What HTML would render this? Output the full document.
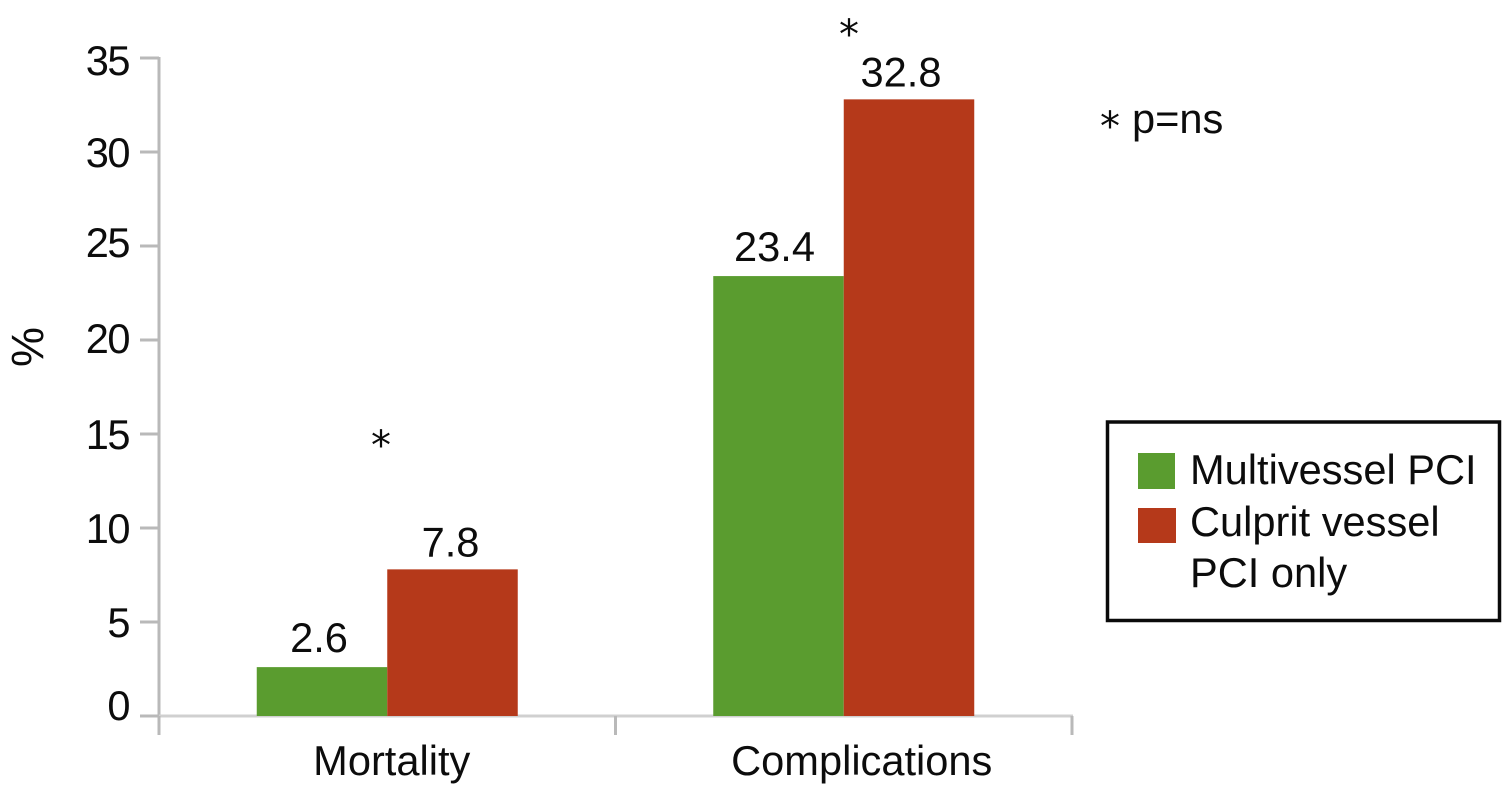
<!DOCTYPE html>
<html lang="en">
<head>
<meta charset="utf-8">
<title>Mortality and complications chart</title>
<style>
html,body{margin:0;padding:0;background:#fff;}
svg{display:block;}
text{font-family:"Liberation Sans",Arial,sans-serif;fill:#0c0c0c;}
</style>
</head>
<body>
<svg id="chart" width="1507" height="785" viewBox="0 0 1507 785" xmlns="http://www.w3.org/2000/svg">
  <text transform="translate(43,347) rotate(-90)" text-anchor="middle" font-size="45">%</text>
  <text x="1132" y="133" font-size="41.6">p=ns</text>
  <text x="1110" y="140" font-size="40" text-anchor="middle" style="font-family:'DejaVu Sans',sans-serif">*</text>
  <text x="381" y="459" font-size="40" text-anchor="middle" style="font-family:'DejaVu Sans',sans-serif">*</text>
  <text x="849" y="48" font-size="40" text-anchor="middle" style="font-family:'DejaVu Sans',sans-serif">*</text>
  <g id="axes"></g>
  <g id="bars"></g>
  <g>
    <rect x="1107.5" y="422" width="392" height="198.5" fill="#fff" stroke="#0a0a0a" stroke-width="3.5"/>
    <rect x="1138" y="453" width="37" height="36" fill="#5a9c2f"/>
    <rect x="1138" y="508" width="38" height="35" fill="#b5391a"/>
    <text x="1190" y="484" font-size="41.6">Multivessel PCI</text>
    <text x="1190" y="536" font-size="41.6">Culprit vessel</text>
    <text x="1190" y="587" font-size="41.6">PCI only</text>
  </g>
</svg>
<script>
const categories = ['Mortality', 'Complications'];
const multivesselValues = [2.6, 23.4];
const culpritValues = [7.8, 32.8];
const yTicks = [0, 5, 10, 15, 20, 25, 30, 35];

const NS = 'http://www.w3.org/2000/svg';
const axesLayer = document.getElementById('axes');
const barsLayer = document.getElementById('bars');
const AXIS_COLOR = '#b9b9b9';
const GREEN = '#5a9c2f';
const RED = '#b5391a';
const FONT = 41.6;

function yScale(v) { return 716 - v * (658 / 35); }
function bandWidth() { return 913 / categories.length; }
function bandCenter(i) { return 159 + bandWidth() * (i + 0.5); }
function bandEdge(i) { return 159 + bandWidth() * i; }
function tickLabelOffset(v) {
  if (v === 0) return 4;
  if (v === 35) return 17;
  if (v === 25) return 11;
  if (v === 20) return 13;
  return 15;
}

function make(tag, attrs, parent, content) {
  const el = document.createElementNS(NS, tag);
  Object.keys(attrs).forEach(function (k) { el.setAttribute(k, attrs[k]); });
  if (content !== undefined) el.textContent = content;
  parent.appendChild(el);
  return el;
}

const yAxisLine = make('line', {x1: 159, x2: 159, y1: yScale(35) - 1, y2: 735, stroke: AXIS_COLOR, 'stroke-width': 3}, axesLayer);



const xAxisLine = make('line', {x1: 140, x2: 1073, y1: yScale(0), y2: yScale(0), stroke: '#d0d0d0', 'stroke-width': 3}, axesLayer);



yTicks.forEach(function (v) {
  const y = yScale(v);
  const tick = make('line', {x1: 140, x2: 159, y1: y, y2: y, stroke: AXIS_COLOR, 'stroke-width': 3}, axesLayer);
  
  
  const label = make('text', {x: 129, y: y + tickLabelOffset(v), 'text-anchor': 'end', 'font-size': FONT, 'letter-spacing': -1.5}, axesLayer, String(v));
  
  
});

for (let i = 0; i <= categories.length; i++) {
  const x = bandEdge(i);
  const tick = make('line', {x1: x, x2: x, y1: yScale(0), y2: 735, stroke: AXIS_COLOR, 'stroke-width': 3}, axesLayer);
  
  
}

categories.forEach(function (name, i) {
  const c = bandCenter(i);
  const w = 130.5;
  const baseY = yScale(0);

  const g = make('rect', {x: c - w, y: yScale(multivesselValues[i]), width: w, height: baseY - yScale(multivesselValues[i]), fill: GREEN}, barsLayer);
  
  

  const r = make('rect', {x: c, y: yScale(culpritValues[i]), width: w, height: baseY - yScale(culpritValues[i]), fill: RED}, barsLayer);
  
  

  const gl = make('text', {x: c - w / 2 - 3 - i, y: yScale(multivesselValues[i]) - 15, 'text-anchor': 'middle', 'font-size': FONT}, barsLayer, multivesselValues[i].toFixed(1));
  
  

  const rl = make('text', {x: c + w / 2 - 2 - i * 6, y: yScale(culpritValues[i]) - 13, 'text-anchor': 'middle', 'font-size': FONT}, barsLayer, culpritValues[i].toFixed(1));
  
  

  const cat = make('text', {x: c + 4.5 + i * 13.5, y: 775, 'text-anchor': 'middle', 'font-size': FONT}, axesLayer, name);
  
  
});
</script>
</body>
</html>
